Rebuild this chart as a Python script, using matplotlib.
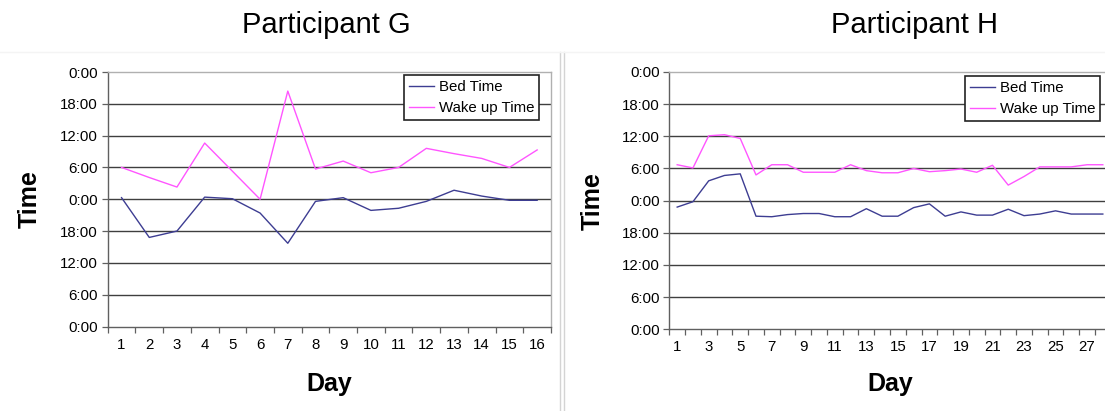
import matplotlib
matplotlib.use("Agg")
import matplotlib.pyplot as plt
from matplotlib.ticker import FixedLocator, FuncFormatter
from matplotlib.lines import Line2D

plt.rcParams['font.family'] = ['Liberation Sans', 'DejaVu Sans']

# ---------------- data (hours; 24 = midnight of the following day) ----------------
days_g = list(range(1, 17))
bed_g = [24.3, 16.8, 18.0, 24.4, 24.1, 21.4, 15.7, 23.6, 24.3, 21.9, 22.3, 23.6, 25.7, 24.6, 23.8, 23.8]
wake_g = [30.0, 28.1, 26.3, 34.6, 29.3, 24.0, 44.4, 29.7, 31.2, 29.0, 30.0, 33.6, 32.6, 31.7, 30.0, 33.3]

days_h = list(range(1, 29))
bed_h = [22.8, 23.8, 27.7, 28.7, 29.0, 21.1, 21.0, 21.4, 21.6, 21.6, 21.0, 21.0, 22.5, 21.1,
         21.1, 22.7, 23.4, 21.1, 21.9, 21.3, 21.3, 22.4, 21.2, 21.5, 22.1, 21.5, 21.5, 21.5]
wake_h = [30.7, 30.1, 36.1, 36.3, 35.6, 28.8, 30.7, 30.7, 29.3, 29.3, 29.3, 30.7, 29.6, 29.2,
          29.2, 30.0, 29.4, 29.6, 29.9, 29.3, 30.6, 26.9, 28.5, 30.3, 30.3, 30.3, 30.7, 30.7]

y_ticks = [0, 6, 12, 18, 24, 30, 36, 42, 48]
series_labels = ["Bed Time", "Wake up Time"]
titles = ["Participant G", "Participant H"]

BED_C = '#3d3d92'
WAKE_C = '#ff55ff'
GRID_C = '#3f3f3f'

W, H = 1105, 411
fig = plt.figure(figsize=(W / 100, H / 100), dpi=100)


def px_rect(l, t, r, b):
    return [l / W, 1 - b / H, (r - l) / W, (b - t) / H]


def fmt(v, pos):
    return "%d:00" % (int(round(v)) % 24)


def draw(ax, days, bed, wake, label_step, legend_anchor):
    ax.plot(days, bed, color=BED_C, lw=1.0, label=series_labels[0], zorder=3)
    ax.plot(days, wake, color=WAKE_C, lw=1.0, label=series_labels[1], zorder=3)
    ax.set_xlim(0.5, len(days) + 0.5)
    ax.set_ylim(0, 48)
    ax.yaxis.set_major_locator(FixedLocator(y_ticks))
    ax.yaxis.set_major_formatter(FuncFormatter(fmt))
    for yv in y_ticks[1:-1]:
        ax.axhline(yv, color=GRID_C, lw=1.0, zorder=1)
    ax.set_xticks(days[::label_step])
    ax.set_xticklabels([str(d) for d in days[::label_step]])
    ax.set_xticks([d + 0.5 for d in range(0, len(days) + 1)], minor=True)
    ax.tick_params(axis='x', which='major', length=0, pad=8, labelsize=10.8)
    ax.tick_params(axis='x', which='minor', length=4, width=0.9, color='#606060', direction='out')
    ax.tick_params(axis='y', which='major', length=4, width=0.9, color='#606060', pad=3, labelsize=10.8)
    ax.spines['left'].set_color('#606060')
    ax.spines['bottom'].set_color('#606060')
    ax.spines['top'].set_color('#b0b0b0')
    ax.spines['right'].set_color('#b0b0b0')
    for s in ax.spines.values():
        s.set_linewidth(1.0)
    leg = ax.legend(loc='upper right', bbox_to_anchor=legend_anchor, fontsize=10.8,
                    frameon=True, fancybox=False, framealpha=1, edgecolor='#222222',
                    handlelength=1.7, handletextpad=0.3, labelspacing=0.48,
                    borderpad=0.32, borderaxespad=0)
    leg.get_frame().set_linewidth(1.2)
    leg.set_zorder(5)


ax1 = fig.add_axes(px_rect(107.7, 72, 551, 326.5))
draw(ax1, days_g, bed_g, wake_g, 1, (0.973, 0.988))

ax2 = fig.add_axes(px_rect(669.3, 72, 1110.7, 329.3))
draw(ax2, days_h, bed_h, wake_h, 2, (0.976, 0.984))

# titles and axis labels
fig.text(326 / W, 1 - 25 / H, titles[0], ha='center', va='center', fontsize=21)
fig.text(915 / W, 1 - 25 / H, titles[1], ha='center', va='center', fontsize=21)
fig.text(30 / W, 1 - 199 / H, "Time", ha='center', va='center', rotation=90,
         fontsize=18, fontweight='bold')
fig.text(593 / W, 1 - 201 / H, "Time", ha='center', va='center', rotation=90,
         fontsize=18, fontweight='bold')
fig.text(329 / W, 1 - 384 / H, "Day", ha='center', va='center', fontsize=18, fontweight='bold')
fig.text(890 / W, 1 - 384 / H, "Day", ha='center', va='center', fontsize=18, fontweight='bold')

# separator lines
for xp in (560, 564):
    fig.add_artist(Line2D([xp / W, xp / W], [0, 1 - 52 / H], color='#d4d4d4', lw=1.0))
fig.add_artist(Line2D([0, 1], [1 - 52 / H, 1 - 52 / H], color='#f4f4f4', lw=1.0))

fig.savefig("out.png", dpi=100)
